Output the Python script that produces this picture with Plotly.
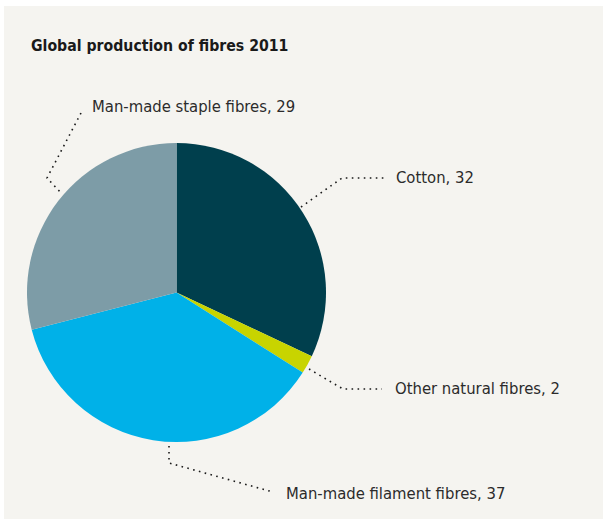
import plotly.graph_objects as go

# Global production of fibres, 2011 (share in %)
categories = ["Cotton", "Other natural fibres", "Man-made filament fibres", "Man-made staple fibres"]
shares = [32, 2, 37, 29]
colors = ["#003f4d", "#c8d400", "#00b1e8", "#7d9ca7"]

W, H = 603, 519
FONT = "DejaVu Sans Condensed, Liberation Sans Narrow, Roboto, sans-serif"

# pie geometry in pixels
cx, cy, r = 176.5, 292.5, 149.5

# label placement: text anchor and dotted leader polyline (pixels)
label_layout = {
    "Cotton": dict(text=(394, 177), leader=[(301, 207), (342, 178), (385, 178)]),
    "Other natural fibres": dict(text=(393, 388), leader=[(309, 369), (343, 389), (382, 389)]),
    "Man-made filament fibres": dict(text=(284, 493), leader=[(169, 446), (169, 463), (273, 492)]),
    "Man-made staple fibres": dict(text=(90, 106), leader=[(81, 113), (47, 178), (62, 194)]),
}

fig = go.Figure()

fig.add_trace(go.Pie(
    labels=categories,
    values=shares,
    marker=dict(colors=colors, line=dict(width=0)),
    sort=False,
    direction="clockwise",
    rotation=0,
    textinfo="none",
    hoverinfo="label+value",
    showlegend=False,
    domain=dict(x=[(cx - r) / W, (cx + r) / W], y=[(H - cy - r) / H, (H - cy + r) / H]),
))

# invisible trace to hold the pixel-coordinate axes
fig.add_trace(go.Scatter(x=[0, W], y=[0, H], mode="markers", marker=dict(opacity=0),
                         hoverinfo="skip", showlegend=False))

shapes = [dict(type="rect", xref="x", yref="y", x0=4, x1=W, y0=6, y1=H,
               fillcolor="#f5f4f0", line=dict(width=0), layer="below")]
annotations = [dict(text="<b>Global production of fibres 2011</b>", xref="x", yref="y",
                    x=29, y=45, xanchor="left", yanchor="middle", showarrow=False,
                    font=dict(family=FONT, size=15.7, color="#1a1a1a"))]

for cat, val in zip(categories, shares):
    lay = label_layout[cat]
    pts = lay["leader"]
    path = "M " + " L ".join(f"{x},{y}" for x, y in pts)
    shapes.append(dict(type="path", xref="x", yref="y", path=path, layer="above",
                       line=dict(color="#1a1a1a", width=1.6, dash="1.6px,4.4px")))
    tx, ty = lay["text"]
    annotations.append(dict(text=f"{cat}, {val}", xref="x", yref="y", x=tx, y=ty,
                            xanchor="left", yanchor="middle", showarrow=False,
                            font=dict(family=FONT, size=16.5, color="#2b2b2b")))

fig.update_layout(
    width=W, height=H,
    margin=dict(l=0, r=0, t=0, b=0),
    paper_bgcolor="#ffffff",
    plot_bgcolor="rgba(0,0,0,0)",
    xaxis=dict(range=[0, W], domain=[0, 1], visible=False, fixedrange=True),
    yaxis=dict(range=[H, 0], domain=[0, 1], visible=False, fixedrange=True),
    shapes=shapes,
    annotations=annotations,
)

fig.write_html("out.html")
